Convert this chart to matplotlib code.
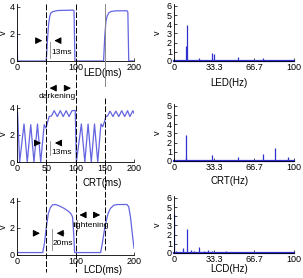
import numpy as np
import matplotlib
matplotlib.use("Agg")
import matplotlib.pyplot as plt
import matplotlib.transforms as mtransforms
from matplotlib.lines import Line2D

plt.rcParams["font.family"] = ["Liberation Sans", "DejaVu Sans"]

# Formas de onda en el tiempo (ms, v)
led_t = [0, 0.5, 1, 50, 52, 54, 56, 58, 62, 70, 96, 97.5, 99, 148, 150, 152, 154, 157, 161, 170, 188, 189.5, 191, 200]
led_v = [2.3, 1.0, 0, 0, 1.5, 2.7, 3.3, 3.55, 3.65, 3.72, 3.75, 3.7, 0, 0, 1.8, 2.9, 3.3, 3.55, 3.65, 3.7, 3.7, 3.6, 0, 0]

crt_t = [0, 1, 4.5, 12, 17.5, 23.5, 29, 35, 40.5, 46.5, 49.5, 52, 55, 59, 63.5, 69, 74, 79, 84, 89, 94, 99.5, 101.5,
         110, 116, 121.5, 127, 132.5, 138, 143.5, 146.5, 149, 152, 155, 159, 164, 169, 174, 179, 184, 189, 193, 198, 200]
crt_v = [3.9, 3.6, 0, 2.8, 0, 2.75, 0, 2.8, 0, 2.75, 2.5, 2.9, 3.35, 3.4, 3.78, 3.35, 3.78, 3.35, 3.78, 3.35, 3.78, 3.8, 0,
         2.8, 0, 2.8, 0, 2.8, 0, 2.8, 2.6, 2.9, 3.35, 3.4, 3.75, 3.35, 3.75, 3.35, 3.78, 3.35, 3.78, 3.35, 3.78, 3.6]

lcd_t = [0, 44, 47, 50, 53.5, 57, 61, 66, 72, 80, 87, 92, 95, 97, 98.5, 143, 146, 150, 153, 156, 160, 166, 172, 188, 191, 194, 197, 200]
lcd_v = [0.18, 0.18, 0.9, 2.0, 3.05, 3.5, 3.7, 3.72, 3.62, 3.45, 3.25, 3.05, 2.8, 1.5, 0.18, 0.18, 0.9, 2.0, 2.6, 3.1, 3.45, 3.68, 3.72, 3.72, 3.55, 2.8, 1.6, 0.5]

# Espectros (Hz, v)
led_f = [10.2, 10.6, 21, 31.5, 33, 43, 53, 64, 74, 85, 95]
led_a = [1.6, 3.9, 0.3, 0.85, 0.8, 0.1, 0.45, 0.12, 0.3, 0.06, 0.05]

crt_f = [10, 10.4, 32, 53, 74, 84.5, 95]
crt_a = [0.4, 2.8, 0.7, 0.4, 0.8, 1.45, 0.45]

lcd_f = [0.4, 2, 7.5, 10.6, 14.5, 17, 21, 25, 28, 32, 37.5, 43, 49, 60, 67]
lcd_a = [4.2, 0.2, 0.5, 2.6, 0.3, 0.25, 0.6, 0.25, 0.3, 0.25, 0.15, 0.2, 0.1, 0.1, 0.05]

color_onda = "#6464e0"
color_esp = "#3030d0"
W, H = 303, 278


def ejes(x0, y0, w, h):
    ax = fig.add_axes([x0 / W, 1 - y0 / H, w / W, h / H])
    for s in ["top", "right"]:
        ax.spines[s].set_visible(False)
    for s in ["left", "bottom"]:
        ax.spines[s].set_linewidth(0.6)
    ax.tick_params(direction="in", length=2, width=0.5, labelsize=6.5, pad=1.5)
    ax.set_ylabel("v", fontsize=6.5, labelpad=1)
    return ax


fig = plt.figure(figsize=(W / 100, H / 100), dpi=100)

# Columna izquierda: señales en el tiempo
izq = []
for (t, v, nombre, y0, ticks, lx, ly) in [
        (led_t, led_v, "LED(ms)", 61, [0, 100, 200], 0.73, -0.13),
        (crt_t, crt_v, "CRT(ms)", 162, [0, 50, 100, 150, 200], 0.73, -0.28),
        (lcd_t, lcd_v, "LCD(ms)", 255, [0, 100, 200], 0.73, -0.18)]:
    ax = ejes(17, y0, 117, 57)
    ax.plot(t, v, color=color_onda, lw=0.9)
    ax.set_xlim(0, 200)
    ax.set_ylim(0, 4.2)
    ax.set_xticks(ticks)
    ax.set_yticks([0, 2, 4])
    ax.set_xlabel(nombre, fontsize=7)
    ax.xaxis.set_label_coords(lx, ly)
    ax.yaxis.set_label_coords(-0.075, 0.5)
    izq.append(ax)

# Columna derecha: espectros
for (f, a, nombre, y0, ly) in [
        (led_f, led_a, "LED(Hz)", 61, -0.29),
        (crt_f, crt_a, "CRT(Hz)", 161, -0.26),
        (lcd_f, lcd_a, "LCD(Hz)", 253, -0.2)]:
    ax = ejes(174, y0, 120, 57)
    ax.vlines(f, 0, a, color=color_esp, lw=0.9)
    ax.plot([0, 100], [0.03, 0.03], color=color_esp, lw=1.6, clip_on=False)
    ax.set_xlim(0, 100)
    ax.set_ylim(0, 6.2)
    ax.set_xticks([0, 33.3, 66.7, 100])
    ax.set_xticklabels(["0", "33.3", "66.7", "100"])
    ax.set_yticks(range(7))
    ax.set_xlabel(nombre, fontsize=7)
    ax.xaxis.set_label_coords(0.46, ly)
    ax.yaxis.set_label_coords(-0.1, 0.5)

# Líneas verticales de referencia a lo largo de la columna izquierda
tr = mtransforms.blended_transform_factory(izq[0].transData, fig.transFigure)
for t, y_a, y_b, estilo, col in [(50, 4, 272, "--", "k"), (100, 4, 272, "--", "k"),
                                 (150, 4, 86, "-", "#888888"), (150, 98, 250, "--", "k")]:
    fig.add_artist(Line2D([t, t], [1 - y_a / H, 1 - y_b / H], transform=tr, ls=estilo,
                          dashes=(6, 2) if estilo == "--" else (None, None), color=col, lw=0.7))

flecha = dict(arrowstyle="-|>,head_length=0.5,head_width=0.25", color="k", lw=0.7, mutation_scale=8)


def anotar(ax, tail, tip, y):
    ax.annotate("", xy=(tip, y), xytext=(tail, y), arrowprops=flecha, annotation_clip=False)


# LED: 13ms y darkening
ax = izq[0]
anotar(ax, 34, 48, 1.5)
anotar(ax, 77, 59, 1.5)
ax.plot([57, 57], [0.2, 1.4], color="#888888", lw=0.6)
ax.text(58.5, 0.6, "13ms", fontsize=6, va="center")
anotar(ax, 66, 51, -2.0)
anotar(ax, 78, 97, -2.0)
ax.text(68, -2.65, "darkening", fontsize=6, ha="center", va="center", clip_on=False)

# CRT: 13ms
ax = izq[1]
anotar(ax, 32, 46, 1.4)
anotar(ax, 79, 60, 1.4)
ax.plot([56.5, 56.5], [0.5, 1.55], color="#888888", lw=0.6)
ax.text(58, 0.7, "13ms", fontsize=6, va="center")

# LCD: 20ms y lightening
ax = izq[2]
anotar(ax, 26, 44, 1.6)
anotar(ax, 85, 63, 1.6)
ax.plot([60, 60], [0.35, 1.9], color="#888888", lw=0.6)
ax.text(61.5, 0.84, "20ms", fontsize=6, va="center")
anotar(ax, 117, 102, 2.95)
anotar(ax, 128, 147, 2.95)
ax.plot([103, 103], [1.8, 2.6], color="#888888", lw=0.6)
ax.text(126, 2.2, "lightening", fontsize=6, ha="center", va="center")

fig.savefig("out.png", dpi=100)
